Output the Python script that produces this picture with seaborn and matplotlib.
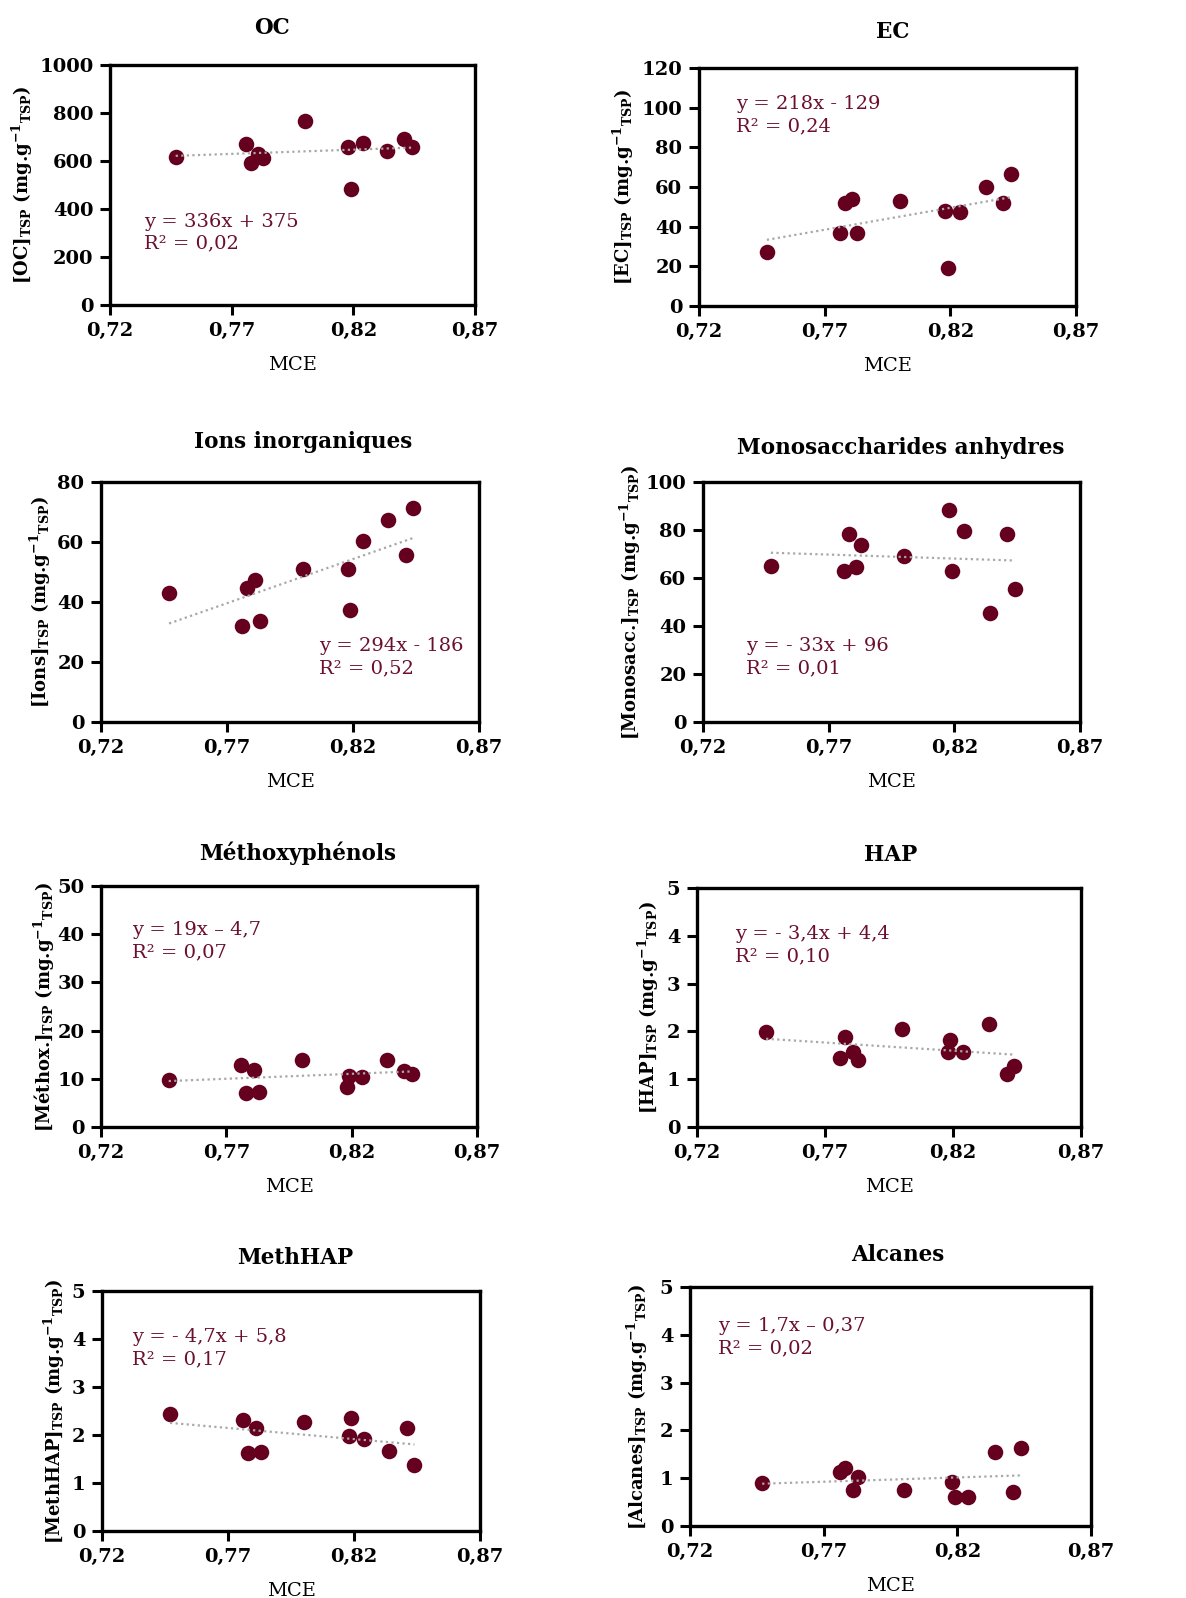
import numpy as np
import pandas as pd
import matplotlib.pyplot as plt
import seaborn as sns

# ------------------------------------------------------------------
# Data
# ------------------------------------------------------------------
mce = [0.747, 0.776, 0.778, 0.781, 0.783, 0.800, 0.818, 0.819, 0.824, 0.834, 0.841, 0.844]

oc = [615, 671, 590, 629, 611, 768, 660, 485, 676, 642, 692, 660]
ec = [27, 36.6, 51.7, 53.7, 36.6, 52.9, 47.8, 19, 47.3, 60, 51.7, 66.8]
ions = [43, 31.9, 44.8, 47.2, 33.6, 50.9, 51.1, 37.4, 60.3, 67.2, 55.6, 71.4]
monosacc = [65, 62.8, 78.5, 64.6, 73.6, 69, 88.2, 62.8, 79.6, 45.4, 78.5, 55.6]
methox = [9.8, 12.8, 7.1, 11.9, 7.3, 13.9, 8.2, 10.5, 10.4, 14.0, 11.6, 10.9]
hap = [1.99, 1.45, 1.89, 1.57, 1.41, 2.04, 1.56, 1.82, 1.57, 2.15, 1.10, 1.27]
methhap = [2.44, 2.31, 1.63, 2.15, 1.65, 2.28, 1.98, 2.35, 1.91, 1.66, 2.15, 1.37]
alcanes = [0.91, 1.14, 1.21, 0.75, 1.03, 0.75, 0.93, 0.61, 0.61, 1.54, 0.72, 1.64]

titles = ['OC', 'EC', 'Ions inorganiques', 'Monosaccharides anhydres',
          'Méthoxyphénols', 'HAP', 'MethHAP', 'Alcanes']
species = ['OC', 'EC', 'Ions', 'Monosacc.', 'Méthox.', 'HAP', 'MethHAP', 'Alcanes']
series = [oc, ec, ions, monosacc, methox, hap, methhap, alcanes]
ymax = [1000, 120, 80, 100, 50, 5, 5, 5]
ystep = [200, 20, 20, 20, 10, 1, 1, 1]
equations = [
    'y = 336x + 375\nR² = 0,02',
    'y = 218x - 129\nR² = 0,24',
    'y = 294x - 186\nR² = 0,52',
    'y = - 33x + 96\nR² = 0,01',
    'y = 19x \u2013 4,7\nR² = 0,07',
    'y = - 3,4x + 4,4\nR² = 0,10',
    'y = - 4,7x + 5,8\nR² = 0,17',
    'y = 1,7x \u2013 0,37\nR² = 0,02',
]
xticks = [0.72, 0.77, 0.82, 0.87]
xticklabels = ['0,72', '0,77', '0,82', '0,87']

# ------------------------------------------------------------------
# Layout (pixel boxes of each panel: left, top, right, bottom)
# ------------------------------------------------------------------
W, H = 1186, 1598
boxes = [(110, 65, 475, 305), (699, 68, 1076, 306),
         (101, 482, 479, 722), (703, 482, 1080, 722),
         (101, 886, 477, 1127), (697, 888, 1081, 1127),
         (102, 1291, 480, 1531), (690, 1287, 1091, 1526)]
title_pos = [(272, 28), (893, 32), (303, 442), (901, 448),
             (298, 853), (891, 855), (295, 1258), (898, 1255)]
eq_pos = [(0.093, 0.385), (0.098, 0.885), (0.577, 0.355), (0.114, 0.355),
          (0.083, 0.855), (0.099, 0.845), (0.08, 0.845), (0.07, 0.875)]
ylab_off = [75, 63, 48, 60, 44, 36, 35, 40]

point_color = '#65001F'
text_color = '#6B0F2E'

sns.set_style('white')
plt.rcParams['font.family'] = ['DejaVu Serif']
plt.rcParams['text.color'] = 'black'
plt.rcParams['axes.labelcolor'] = 'black'
plt.rcParams['xtick.color'] = 'black'
plt.rcParams['ytick.color'] = 'black'

fig = plt.figure(figsize=(W / 100, H / 100), dpi=100)

for i in range(8):
    l, t, r, b = boxes[i]
    ax = fig.add_axes([l / W, 1 - b / H, (r - l) / W, (b - t) / H])
    df = pd.DataFrame({'MCE': mce, 'val': series[i]})

    sns.scatterplot(data=df, x='MCE', y='val', ax=ax, color=point_color,
                    s=125, edgecolor=point_color, linewidth=0, zorder=3)
    sns.regplot(data=df, x='MCE', y='val', ax=ax, scatter=False, ci=None,
                line_kws={'color': '#A8A8A8', 'linestyle': (0, (1, 1.5)),
                          'linewidth': 1.6, 'zorder': 4})

    ax.set_xlim(0.72, 0.87)
    ax.set_ylim(0, ymax[i])
    ax.set_xticks(xticks)
    ax.set_xticklabels(xticklabels)
    ax.set_yticks(np.arange(0, ymax[i] + ystep[i] / 2, ystep[i]))
    for lab in ax.get_xticklabels() + ax.get_yticklabels():
        lab.set_fontweight('bold')
        lab.set_fontsize(14)
    ax.tick_params(axis='both', direction='out', length=7, width=2.2,
                   color='black', labelcolor='black', pad=5,
                   left=True, bottom=True)
    for sp in ax.spines.values():
        sp.set_visible(True)
        sp.set_linewidth(2.4)
        sp.set_color('black')

    ax.set_xlabel('MCE', fontsize=14, labelpad=12)
    ylabel = ('[' + species[i] + r']$_{\mathregular{TSP}}$ (mg.g'
              r'$^{\mathregular{-1}}$$_{\mathregular{TSP}}$)')
    ax.set_ylabel(ylabel, fontsize=13, fontweight='bold')
    ax.yaxis.set_label_coords(-ylab_off[i] / (r - l), 0.5)

    ax.text(eq_pos[i][0], eq_pos[i][1], equations[i], transform=ax.transAxes,
            ha='left', va='top', fontsize=14, color=text_color,
            linespacing=1.3)

    tx, ty = title_pos[i]
    fig.text(tx / W, 1 - ty / H, titles[i], ha='center', va='center',
             fontsize=15.5, fontweight='bold', color='black')

plt.savefig('out.png', dpi=100)
plt.close()
